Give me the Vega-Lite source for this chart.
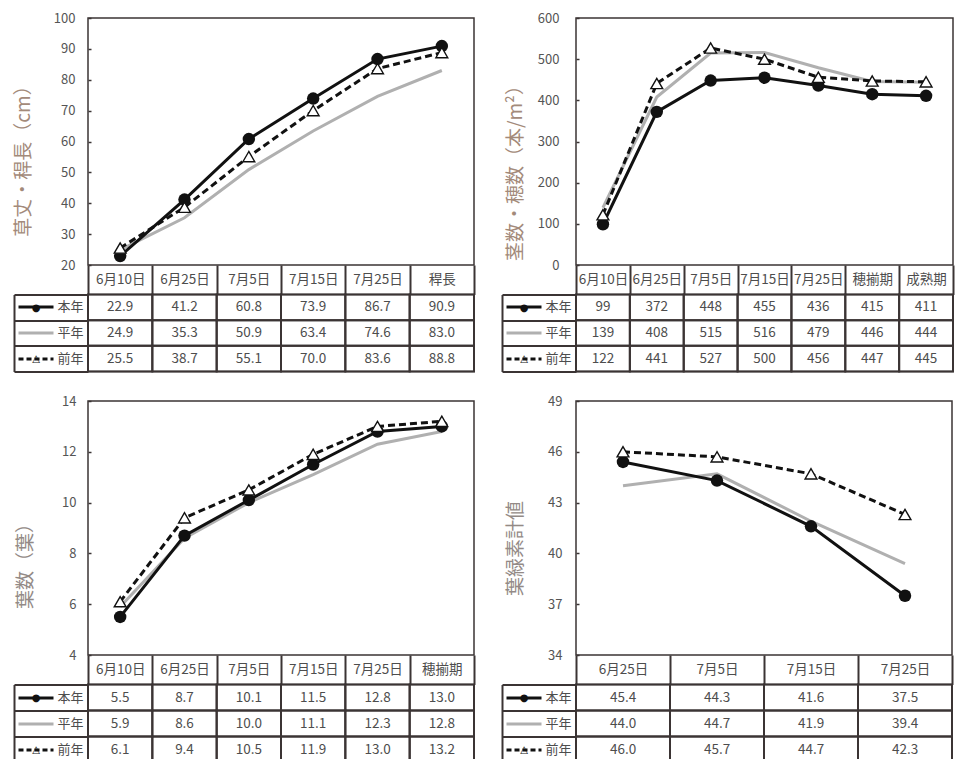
{
  "$schema": "https://vega.github.io/schema/vega-lite/v6.json",
  "padding": {"left": 12, "top": 11, "right": 0, "bottom": 0},
  "autosize": {"type": "pad"},
  "background": "white",
  "config": {
    "font": "Noto Sans CJK JP",
    "view": {"stroke": "#3b3434", "strokeWidth": 1.5},
    "axis": {"grid": false, "labelFont": "Noto Sans CJK JP", "titleFont": "Noto Sans CJK JP"}
  },
  "datasets": {
    "p1": [
      {"date": "6月10日", "series": "本年", "value": 22.9}, {"date": "6月25日", "series": "本年", "value": 41.2}, {"date": "7月5日", "series": "本年", "value": 60.8}, {"date": "7月15日", "series": "本年", "value": 73.9}, {"date": "7月25日", "series": "本年", "value": 86.7}, {"date": "稈長", "series": "本年", "value": 90.9},
      {"date": "6月10日", "series": "平年", "value": 24.9}, {"date": "6月25日", "series": "平年", "value": 35.3}, {"date": "7月5日", "series": "平年", "value": 50.9}, {"date": "7月15日", "series": "平年", "value": 63.4}, {"date": "7月25日", "series": "平年", "value": 74.6}, {"date": "稈長", "series": "平年", "value": 83.0},
      {"date": "6月10日", "series": "前年", "value": 25.5}, {"date": "6月25日", "series": "前年", "value": 38.7}, {"date": "7月5日", "series": "前年", "value": 55.1}, {"date": "7月15日", "series": "前年", "value": 70.0}, {"date": "7月25日", "series": "前年", "value": 83.6}, {"date": "稈長", "series": "前年", "value": 88.8}
    ],
    "p2": [
      {"date": "6月10日", "series": "本年", "value": 99}, {"date": "6月25日", "series": "本年", "value": 372}, {"date": "7月5日", "series": "本年", "value": 448}, {"date": "7月15日", "series": "本年", "value": 455}, {"date": "7月25日", "series": "本年", "value": 436}, {"date": "穂揃期", "series": "本年", "value": 415}, {"date": "成熟期", "series": "本年", "value": 411},
      {"date": "6月10日", "series": "平年", "value": 139}, {"date": "6月25日", "series": "平年", "value": 408}, {"date": "7月5日", "series": "平年", "value": 515}, {"date": "7月15日", "series": "平年", "value": 516}, {"date": "7月25日", "series": "平年", "value": 479}, {"date": "穂揃期", "series": "平年", "value": 446}, {"date": "成熟期", "series": "平年", "value": 444},
      {"date": "6月10日", "series": "前年", "value": 122}, {"date": "6月25日", "series": "前年", "value": 441}, {"date": "7月5日", "series": "前年", "value": 527}, {"date": "7月15日", "series": "前年", "value": 500}, {"date": "7月25日", "series": "前年", "value": 456}, {"date": "穂揃期", "series": "前年", "value": 447}, {"date": "成熟期", "series": "前年", "value": 445}
    ],
    "p3": [
      {"date": "6月10日", "series": "本年", "value": 5.5}, {"date": "6月25日", "series": "本年", "value": 8.7}, {"date": "7月5日", "series": "本年", "value": 10.1}, {"date": "7月15日", "series": "本年", "value": 11.5}, {"date": "7月25日", "series": "本年", "value": 12.8}, {"date": "穂揃期", "series": "本年", "value": 13.0},
      {"date": "6月10日", "series": "平年", "value": 5.9}, {"date": "6月25日", "series": "平年", "value": 8.6}, {"date": "7月5日", "series": "平年", "value": 10.0}, {"date": "7月15日", "series": "平年", "value": 11.1}, {"date": "7月25日", "series": "平年", "value": 12.3}, {"date": "穂揃期", "series": "平年", "value": 12.8},
      {"date": "6月10日", "series": "前年", "value": 6.1}, {"date": "6月25日", "series": "前年", "value": 9.4}, {"date": "7月5日", "series": "前年", "value": 10.5}, {"date": "7月15日", "series": "前年", "value": 11.9}, {"date": "7月25日", "series": "前年", "value": 13.0}, {"date": "穂揃期", "series": "前年", "value": 13.2}
    ],
    "p4": [
      {"date": "6月25日", "series": "本年", "value": 45.4}, {"date": "7月5日", "series": "本年", "value": 44.3}, {"date": "7月15日", "series": "本年", "value": 41.6}, {"date": "7月25日", "series": "本年", "value": 37.5},
      {"date": "6月25日", "series": "平年", "value": 44.0}, {"date": "7月5日", "series": "平年", "value": 44.7}, {"date": "7月15日", "series": "平年", "value": 41.9}, {"date": "7月25日", "series": "平年", "value": 39.4},
      {"date": "6月25日", "series": "前年", "value": 46.0}, {"date": "7月5日", "series": "前年", "value": 45.7}, {"date": "7月15日", "series": "前年", "value": 44.7}, {"date": "7月25日", "series": "前年", "value": 42.3}
    ]
  },
  "columns": 2,
  "align": "none",
  "bounds": "flush",
  "spacing": {"row": 29.5, "column": 102},
  "concat": [
    {
      "width": 386, "height": 247,
      "data": {"name": "p1"},
      "encoding": {
        "x": {"field": "date", "type": "ordinal", "sort": ["6月10日","6月25日","7月5日","7月15日","7月25日","稈長"], "scale": {"type": "band", "paddingInner": 0, "paddingOuter": 0},
          "axis": {"title": null, "domain": false, "grid": false, "tickBand": "extent", "tickSize": 29.5, "tickColor": "#3b3434", "tickWidth": 2, "labelAngle": 0, "labelBaseline": "middle", "labelPadding": -14.75, "labelFontSize": 13.5, "labelColor": "#4d4d4d", "labelOverlap": false}},
        "y": {"field": "value", "type": "quantitative", "scale": {"domain": [20, 100], "nice": false, "zero": false},
          "axis": {"values": [20,30,40,50,60,70,80,90,100], "title": "草丈・稈長（cm）", "titleColor": "#a38a7a", "titleFontSize": 19, "titleFontWeight": "normal", "titlePadding": 20, "titleY": 138, "domain": false, "grid": false, "ticks": true, "tickSize": -3, "tickColor": "#3b3434", "tickWidth": 1.5, "labelFontSize": 13, "labelColor": "#555555", "labelPadding": 16}}
      },
      "layer": [
        {"transform": [{"filter": "datum.series === '平年'"}], "mark": {"type": "line", "color": "#b0b0b0", "strokeWidth": 3}},
        {"transform": [{"filter": "datum.series === '本年'"}], "mark": {"type": "line", "color": "#111111", "strokeWidth": 3}},
        {"transform": [{"filter": "datum.series === '本年'"}], "mark": {"type": "point", "shape": "circle", "filled": true, "color": "#111111", "size": 155, "opacity": 1}},
        {"transform": [{"filter": "datum.series === '前年'"}], "mark": {"type": "line", "color": "#111111", "strokeWidth": 3, "strokeDash": [7, 4]}},
        {"transform": [{"filter": "datum.series === '前年'"}], "mark": {"type": "point", "shape": "triangle-up", "filled": true, "fill": "white", "stroke": "#111111", "strokeWidth": 1.4, "size": 140, "opacity": 1}}
      ]
    },
    {
      "width": 377, "height": 247,
      "data": {"name": "p2"},
      "encoding": {
        "x": {"field": "date", "type": "ordinal", "sort": ["6月10日","6月25日","7月5日","7月15日","7月25日","穂揃期","成熟期"], "scale": {"type": "band", "paddingInner": 0, "paddingOuter": 0},
          "axis": {"title": null, "domain": false, "grid": false, "tickBand": "extent", "tickSize": 29.5, "tickColor": "#3b3434", "tickWidth": 2, "labelAngle": 0, "labelBaseline": "middle", "labelPadding": -14.75, "labelFontSize": 13.5, "labelColor": "#4d4d4d", "labelOverlap": false}},
        "y": {"field": "value", "type": "quantitative", "scale": {"domain": [0, 600], "nice": false, "zero": false},
          "axis": {"values": [0,100,200,300,400,500,600], "title": "茎数・穂数（本/m²）", "titleColor": "#a38a7a", "titleFontSize": 19, "titleFontWeight": "normal", "titlePadding": 12, "titleY": 150, "domain": false, "grid": false, "ticks": true, "tickSize": -3, "tickColor": "#3b3434", "tickWidth": 1.5, "labelFontSize": 13, "labelColor": "#555555", "labelPadding": 20}}
      },
      "layer": [
        {"transform": [{"filter": "datum.series === '平年'"}], "mark": {"type": "line", "color": "#b0b0b0", "strokeWidth": 3}},
        {"transform": [{"filter": "datum.series === '本年'"}], "mark": {"type": "line", "color": "#111111", "strokeWidth": 3}},
        {"transform": [{"filter": "datum.series === '本年'"}], "mark": {"type": "point", "shape": "circle", "filled": true, "color": "#111111", "size": 155, "opacity": 1}},
        {"transform": [{"filter": "datum.series === '前年'"}], "mark": {"type": "line", "color": "#111111", "strokeWidth": 3, "strokeDash": [7, 4]}},
        {"transform": [{"filter": "datum.series === '前年'"}], "mark": {"type": "point", "shape": "triangle-up", "filled": true, "fill": "white", "stroke": "#111111", "strokeWidth": 1.4, "size": 140, "opacity": 1}}
      ]
    },
    {
      "width": 386, "height": 77,
      "data": {"name": "p1"},
      "encoding": {
        "x": {"field": "date", "type": "ordinal", "sort": ["6月10日","6月25日","7月5日","7月15日","7月25日","稈長"], "scale": {"type": "band", "paddingInner": 0, "paddingOuter": 0}, "axis": null}
      },
      "layer": [
        {"mark": {"type": "rect", "fill": "white", "fillOpacity": 0, "stroke": "#3b3434", "strokeWidth": 2},
         "encoding": {"y": {"field": "series", "type": "nominal", "sort": ["本年","平年","前年"], "scale": {"type": "band", "paddingInner": 0, "paddingOuter": 0},
           "axis": {"orient": "left", "title": null, "offset": 74, "domain": true, "domainColor": "#3b3434", "domainWidth": 2, "ticks": true, "tickBand": "extent", "tickSize": -74, "tickColor": "#3b3434", "tickWidth": 2, "grid": false, "labelExpr": "datum.value === '本年' ? '●' : datum.value === '前年' ? '△' : ''", "labelAlign": "center", "labelBaseline": "middle", "labelPadding": 52.5, "labelFontSize": 10, "labelFont": "DejaVu Sans", "labelColor": "#111111"}}}},
        {"mark": {"type": "text", "fontSize": 13.5, "color": "#4d4d4d"},
         "encoding": {"y": {"field": "series", "type": "nominal", "sort": ["本年","平年","前年"], "scale": {"type": "band", "paddingInner": 0, "paddingOuter": 0},
           "axis": {"orient": "left", "title": null, "offset": 70, "domain": false, "ticks": true, "tickSize": -35, "grid": false, "tickWidth": 3, "tickColor": {"condition": {"test": "datum.value === '平年'", "value": "#b0b0b0"}, "value": "#111111"}, "tickDash": {"condition": {"test": "datum.value === '前年'", "value": [5, 3]}, "value": []}, "labelAlign": "left", "labelBaseline": "middle", "labelPadding": -4, "labelFontSize": 13, "labelColor": "#4d4d4d"}},
           "text": {"field": "value", "type": "quantitative", "format": ".1f"}}}
      ],
      "resolve": {"scale": {"y": "independent"}}
    },
    {
      "width": 377, "height": 77,
      "data": {"name": "p2"},
      "encoding": {
        "x": {"field": "date", "type": "ordinal", "sort": ["6月10日","6月25日","7月5日","7月15日","7月25日","穂揃期","成熟期"], "scale": {"type": "band", "paddingInner": 0, "paddingOuter": 0}, "axis": null}
      },
      "layer": [
        {"mark": {"type": "rect", "fill": "white", "fillOpacity": 0, "stroke": "#3b3434", "strokeWidth": 2},
         "encoding": {"y": {"field": "series", "type": "nominal", "sort": ["本年","平年","前年"], "scale": {"type": "band", "paddingInner": 0, "paddingOuter": 0},
           "axis": {"orient": "left", "title": null, "offset": 74, "domain": true, "domainColor": "#3b3434", "domainWidth": 2, "ticks": true, "tickBand": "extent", "tickSize": -74, "tickColor": "#3b3434", "tickWidth": 2, "grid": false, "labelExpr": "datum.value === '本年' ? '●' : datum.value === '前年' ? '△' : ''", "labelAlign": "center", "labelBaseline": "middle", "labelPadding": 52.5, "labelFontSize": 10, "labelFont": "DejaVu Sans", "labelColor": "#111111"}}}},
        {"mark": {"type": "text", "fontSize": 13.5, "color": "#4d4d4d"},
         "encoding": {"y": {"field": "series", "type": "nominal", "sort": ["本年","平年","前年"], "scale": {"type": "band", "paddingInner": 0, "paddingOuter": 0},
           "axis": {"orient": "left", "title": null, "offset": 70, "domain": false, "ticks": true, "tickSize": -35, "grid": false, "tickWidth": 3, "tickColor": {"condition": {"test": "datum.value === '平年'", "value": "#b0b0b0"}, "value": "#111111"}, "tickDash": {"condition": {"test": "datum.value === '前年'", "value": [5, 3]}, "value": []}, "labelAlign": "left", "labelBaseline": "middle", "labelPadding": -4, "labelFontSize": 13, "labelColor": "#4d4d4d"}},
           "text": {"field": "value", "type": "quantitative", "format": "d"}}}
      ],
      "resolve": {"scale": {"y": "independent"}}
    },
    {
      "width": 386, "height": 254,
      "data": {"name": "p3"},
      "encoding": {
        "x": {"field": "date", "type": "ordinal", "sort": ["6月10日","6月25日","7月5日","7月15日","7月25日","穂揃期"], "scale": {"type": "band", "paddingInner": 0, "paddingOuter": 0},
          "axis": {"title": null, "domain": false, "grid": false, "tickBand": "extent", "tickSize": 29.5, "tickColor": "#3b3434", "tickWidth": 2, "labelAngle": 0, "labelBaseline": "middle", "labelPadding": -14.75, "labelFontSize": 13.5, "labelColor": "#4d4d4d", "labelOverlap": false}},
        "y": {"field": "value", "type": "quantitative", "scale": {"domain": [4, 14], "nice": false, "zero": false},
          "axis": {"values": [4,6,8,10,12,14], "title": "葉数（葉）", "titleColor": "#938a86", "titleFontSize": 19, "titleFontWeight": "normal", "titlePadding": 26, "titleY": 160, "domain": false, "grid": false, "ticks": true, "tickSize": -3, "tickColor": "#3b3434", "tickWidth": 1.5, "labelFontSize": 13, "labelColor": "#555555", "labelPadding": 15}}
      },
      "layer": [
        {"transform": [{"filter": "datum.series === '平年'"}], "mark": {"type": "line", "color": "#b0b0b0", "strokeWidth": 3}},
        {"transform": [{"filter": "datum.series === '本年'"}], "mark": {"type": "line", "color": "#111111", "strokeWidth": 3}},
        {"transform": [{"filter": "datum.series === '本年'"}], "mark": {"type": "point", "shape": "circle", "filled": true, "color": "#111111", "size": 155, "opacity": 1}},
        {"transform": [{"filter": "datum.series === '前年'"}], "mark": {"type": "line", "color": "#111111", "strokeWidth": 3, "strokeDash": [7, 4]}},
        {"transform": [{"filter": "datum.series === '前年'"}], "mark": {"type": "point", "shape": "triangle-up", "filled": true, "fill": "white", "stroke": "#111111", "strokeWidth": 1.4, "size": 140, "opacity": 1}}
      ]
    },
    {
      "width": 376, "height": 254,
      "data": {"name": "p4"},
      "encoding": {
        "x": {"field": "date", "type": "ordinal", "sort": ["6月25日","7月5日","7月15日","7月25日"], "scale": {"type": "band", "paddingInner": 0, "paddingOuter": 0},
          "axis": {"title": null, "domain": false, "grid": false, "tickBand": "extent", "tickSize": 29.5, "tickColor": "#3b3434", "tickWidth": 2, "labelAngle": 0, "labelBaseline": "middle", "labelPadding": -14.75, "labelFontSize": 13.5, "labelColor": "#4d4d4d", "labelOverlap": false}},
        "y": {"field": "value", "type": "quantitative", "scale": {"domain": [34, 49], "nice": false, "zero": false},
          "axis": {"values": [34,37,40,43,46,49], "title": "葉緑素計値", "titleColor": "#938a86", "titleFontSize": 19, "titleFontWeight": "normal", "titlePadding": 22, "titleY": 147, "domain": false, "grid": false, "ticks": true, "tickSize": -3, "tickColor": "#3b3434", "tickWidth": 1.5, "labelFontSize": 13, "labelColor": "#555555", "labelPadding": 17}}
      },
      "layer": [
        {"transform": [{"filter": "datum.series === '平年'"}], "mark": {"type": "line", "color": "#b0b0b0", "strokeWidth": 3}},
        {"transform": [{"filter": "datum.series === '本年'"}], "mark": {"type": "line", "color": "#111111", "strokeWidth": 3}},
        {"transform": [{"filter": "datum.series === '本年'"}], "mark": {"type": "point", "shape": "circle", "filled": true, "color": "#111111", "size": 155, "opacity": 1}},
        {"transform": [{"filter": "datum.series === '前年'"}], "mark": {"type": "line", "color": "#111111", "strokeWidth": 3, "strokeDash": [7, 4]}},
        {"transform": [{"filter": "datum.series === '前年'"}], "mark": {"type": "point", "shape": "triangle-up", "filled": true, "fill": "white", "stroke": "#111111", "strokeWidth": 1.4, "size": 140, "opacity": 1}}
      ]
    },
    {
      "width": 386, "height": 78,
      "data": {"name": "p3"},
      "encoding": {
        "x": {"field": "date", "type": "ordinal", "sort": ["6月10日","6月25日","7月5日","7月15日","7月25日","穂揃期"], "scale": {"type": "band", "paddingInner": 0, "paddingOuter": 0}, "axis": null}
      },
      "layer": [
        {"mark": {"type": "rect", "fill": "white", "fillOpacity": 0, "stroke": "#3b3434", "strokeWidth": 2},
         "encoding": {"y": {"field": "series", "type": "nominal", "sort": ["本年","平年","前年"], "scale": {"type": "band", "paddingInner": 0, "paddingOuter": 0},
           "axis": {"orient": "left", "title": null, "offset": 74, "domain": true, "domainColor": "#3b3434", "domainWidth": 2, "ticks": true, "tickBand": "extent", "tickSize": -74, "tickColor": "#3b3434", "tickWidth": 2, "grid": false, "labelExpr": "datum.value === '本年' ? '●' : datum.value === '前年' ? '△' : ''", "labelAlign": "center", "labelBaseline": "middle", "labelPadding": 52.5, "labelFontSize": 10, "labelFont": "DejaVu Sans", "labelColor": "#111111"}}}},
        {"mark": {"type": "text", "fontSize": 13.5, "color": "#4d4d4d"},
         "encoding": {"y": {"field": "series", "type": "nominal", "sort": ["本年","平年","前年"], "scale": {"type": "band", "paddingInner": 0, "paddingOuter": 0},
           "axis": {"orient": "left", "title": null, "offset": 70, "domain": false, "ticks": true, "tickSize": -35, "grid": false, "tickWidth": 3, "tickColor": {"condition": {"test": "datum.value === '平年'", "value": "#b0b0b0"}, "value": "#111111"}, "tickDash": {"condition": {"test": "datum.value === '前年'", "value": [5, 3]}, "value": []}, "labelAlign": "left", "labelBaseline": "middle", "labelPadding": -4, "labelFontSize": 13, "labelColor": "#4d4d4d"}},
           "text": {"field": "value", "type": "quantitative", "format": ".1f"}}}
      ],
      "resolve": {"scale": {"y": "independent"}}
    },
    {
      "width": 376, "height": 78,
      "data": {"name": "p4"},
      "encoding": {
        "x": {"field": "date", "type": "ordinal", "sort": ["6月25日","7月5日","7月15日","7月25日"], "scale": {"type": "band", "paddingInner": 0, "paddingOuter": 0}, "axis": null}
      },
      "layer": [
        {"mark": {"type": "rect", "fill": "white", "fillOpacity": 0, "stroke": "#3b3434", "strokeWidth": 2},
         "encoding": {"y": {"field": "series", "type": "nominal", "sort": ["本年","平年","前年"], "scale": {"type": "band", "paddingInner": 0, "paddingOuter": 0},
           "axis": {"orient": "left", "title": null, "offset": 74, "domain": true, "domainColor": "#3b3434", "domainWidth": 2, "ticks": true, "tickBand": "extent", "tickSize": -74, "tickColor": "#3b3434", "tickWidth": 2, "grid": false, "labelExpr": "datum.value === '本年' ? '●' : datum.value === '前年' ? '△' : ''", "labelAlign": "center", "labelBaseline": "middle", "labelPadding": 52.5, "labelFontSize": 10, "labelFont": "DejaVu Sans", "labelColor": "#111111"}}}},
        {"mark": {"type": "text", "fontSize": 13.5, "color": "#4d4d4d"},
         "encoding": {"y": {"field": "series", "type": "nominal", "sort": ["本年","平年","前年"], "scale": {"type": "band", "paddingInner": 0, "paddingOuter": 0},
           "axis": {"orient": "left", "title": null, "offset": 70, "domain": false, "ticks": true, "tickSize": -35, "grid": false, "tickWidth": 3, "tickColor": {"condition": {"test": "datum.value === '平年'", "value": "#b0b0b0"}, "value": "#111111"}, "tickDash": {"condition": {"test": "datum.value === '前年'", "value": [5, 3]}, "value": []}, "labelAlign": "left", "labelBaseline": "middle", "labelPadding": -4, "labelFontSize": 13, "labelColor": "#4d4d4d"}},
           "text": {"field": "value", "type": "quantitative", "format": ".1f"}}}
      ],
      "resolve": {"scale": {"y": "independent"}}
    }
  ]
}
